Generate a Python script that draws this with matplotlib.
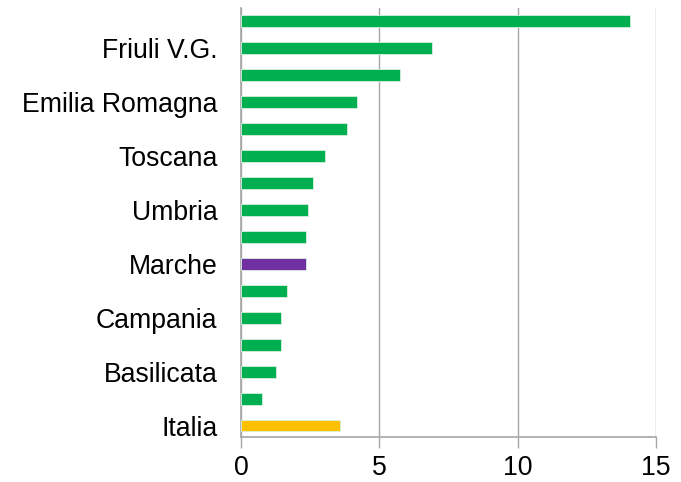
import matplotlib
matplotlib.use("Agg")
import matplotlib.pyplot as plt

categories = ["Trentino A.A.", "Friuli V.G.", "Veneto", "Emilia Romagna", "Lombardia",
              "Toscana", "Piemonte", "Umbria", "Lazio", "Marche", "Liguria",
              "Campania", "Abruzzo", "Basilicata", "Calabria", "Italia"]
values = [14.06, 6.92, 5.76, 4.19, 3.82, 3.02, 2.61, 2.43, 2.34, 2.34, 1.67,
          1.46, 1.46, 1.26, 0.76, 3.59]
shown_labels = ["", "Friuli V.G.", "", "Emilia Romagna", "", "Toscana", "", "Umbria",
                "", "Marche", "", "Campania", "", "Basilicata", "", "Italia"]
x_ticks = [0, 5, 10, 15]

GREEN = "#00B050"
PURPLE = "#7030A0"
YELLOW = "#FFC000"
colors = [PURPLE if c == "Marche" else YELLOW if c == "Italia" else GREEN for c in categories]

plt.rcParams["font.family"] = ["Liberation Sans", "DejaVu Sans"]

fig = plt.figure(figsize=(6.81, 4.82), dpi=100)
ax = fig.add_axes([241/681, 1-437.3/482, (656-241)/681, (437.3-8)/482])

pos = list(range(len(categories)))
ax.barh(pos, values, height=0.43, color=colors, edgecolor="#d8f0e0", linewidth=0.6, zorder=3)

ax.set_xlim(0, 15)
ax.set_ylim(15.43, -0.48)
ax.set_xticks(x_ticks)
ax.set_xticklabels([str(t) for t in x_ticks], fontsize=19.2)
ax.set_yticks(pos)
ax.set_yticklabels(shown_labels, fontsize=19.2)
ax.tick_params(axis="y", length=0, pad=17)
ax.tick_params(axis="x", length=8, width=1, color="#A6A6A6", pad=5)

ax.grid(axis="x", color="#A6A6A6", linewidth=1, zorder=0)
for s in ["top", "right"]:
    ax.spines[s].set_visible(False)
for s in ["left", "bottom"]:
    ax.spines[s].set_color("#A6A6A6")
    ax.spines[s].set_linewidth(1.2)

fig.savefig("out.png", dpi=100)
